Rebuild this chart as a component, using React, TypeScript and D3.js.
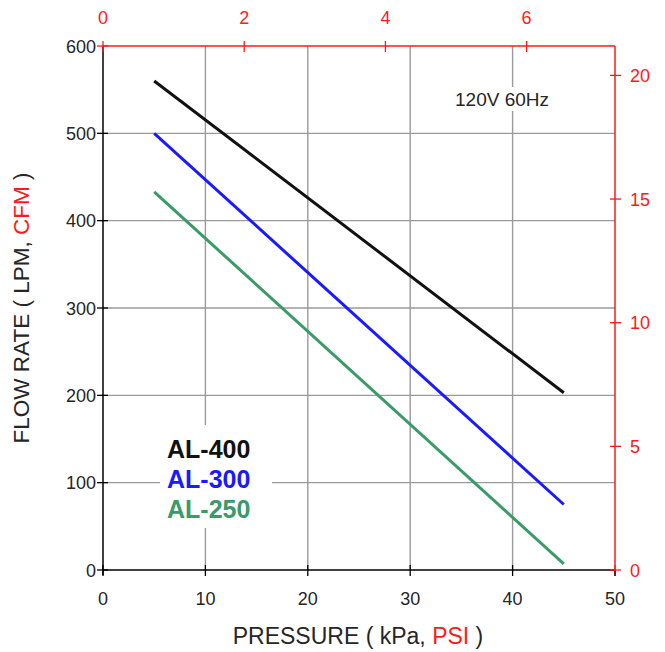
import React from "react";
import * as d3 from "d3";

const kpaTicks = [0, 10, 20, 30, 40, 50];
const lpmTicks = [0, 100, 200, 300, 400, 500, 600];
const psiTicks = [0, 2, 4, 6];
const cfmTicks = [0, 5, 10, 15, 20];
const gridX = [10, 20, 30, 40];
const gridY = [100, 200, 300, 400, 500];

const seriesNames = ["AL-400", "AL-300", "AL-250"];
const seriesColors = ["#111111", "#1a1aff", "#3a9a68"];
const pressure = [5, 45];
const al400 = [560, 203];
const al300 = [500, 75];
const al250 = [433, 7];
const seriesValues = [al400, al300, al250];

const KPA_PER_PSI = 6.89476;
const LPM_PER_CFM = 28.3168;

export default function App() {
  const W = 665, H = 652;
  const L = 103, R = 615, T = 46, B = 570;
  const x = d3.scaleLinear().domain([0, 50]).range([L, R]);
  const y = d3.scaleLinear().domain([0, 600]).range([B, T]);
  const xPsi = d3.scaleLinear().domain([0, 50 / KPA_PER_PSI]).range([L, R]);
  const yCfm = d3.scaleLinear().domain([0, 600 / LPM_PER_CFM]).range([B, T]);
  const line = d3.line<[number, number]>().x(d => x(d[0])).y(d => y(d[1]));
  const font = "'Liberation Sans', Arial, sans-serif";
  const red = "#ff1a1a";
  const fs = 18;
  const txt = "#262626";

  return (
    <svg width={W} height={H} style={{ position: "absolute", left: 0, top: 0, background: "#fff" }} fontFamily={font}>
      <rect x={0} y={0} width={W} height={H} fill="#fff" />
      {gridX.map(v => (
        <line key={"gx" + v} x1={x(v)} x2={x(v)} y1={T} y2={B} stroke="#9a9a9a" strokeWidth={1.4} />
      ))}
      {gridY.map(v => (
        <line key={"gy" + v} x1={L} x2={R} y1={y(v)} y2={y(v)} stroke="#9a9a9a" strokeWidth={1.4} />
      ))}
      {/* annotation background */}
      <rect x={450} y={87} width={108} height={24} fill="#fff" />
      <text x={455} y={106} textAnchor="start" fontSize={19} fill={txt}>120V 60Hz</text>
      {/* legend background */}
      <rect x={160} y={425} width={112} height={103} fill="#fff" />
      {seriesNames.map((n, i) => (
        <text key={n} x={167} y={458 + i * 30} fontSize={25} fontWeight="bold" fill={seriesColors[i]}>{n}</text>
      ))}
      {seriesValues.map((vals, i) => (
        <path key={"s" + i} d={line(pressure.map((p, j) => [p, vals[j]] as [number, number])) || ""}
          stroke={seriesColors[i]} strokeWidth={3} fill="none" />
      ))}
      {/* left axis */}
      <line x1={L} x2={L} y1={T} y2={B + 5} stroke="#000" strokeWidth={1.5} />
      {lpmTicks.map(v => (
        <g key={"ly" + v}>
          <line x1={L - 6} x2={L + 5} y1={y(v)} y2={y(v)} stroke={v === 600 ? red : "#000"} strokeWidth={1.3} />
          <text x={L - 7} y={y(v) + 6.5} textAnchor="end" fontSize={fs} fill={txt}>{v}</text>
        </g>
      ))}
      {/* bottom axis */}
      <line x1={L} x2={R} y1={B} y2={B} stroke="#000" strokeWidth={1.5} />
      {kpaTicks.map(v => (
        <g key={"bx" + v}>
          <line x1={x(v)} x2={x(v)} y1={B - 5} y2={B + 6} stroke={v === 50 ? red : "#000"} strokeWidth={1.3} />
          {v === 50 && <line x1={x(v)} x2={x(v)} y1={B} y2={B + 6} stroke="#000" strokeWidth={1.3} />}
          <text x={x(v)} y={B + 35} textAnchor="middle" fontSize={fs} fill={txt}>{v}</text>
        </g>
      ))}
      {/* top axis */}
      <line x1={L} x2={R} y1={T} y2={T} stroke={red} strokeWidth={1.5} />
      {psiTicks.map(v => (
        <g key={"tx" + v}>
          <line x1={xPsi(v)} x2={xPsi(v)} y1={T - 5} y2={T + 6} stroke={red} strokeWidth={1.3} />
          <text x={xPsi(v)} y={T - 22} textAnchor="middle" fontSize={fs} fill={red}>{v}</text>
        </g>
      ))}
      {/* right axis */}
      <line x1={R} x2={R} y1={T} y2={B} stroke={red} strokeWidth={1.5} />
      {cfmTicks.map(v => (
        <g key={"ry" + v}>
          <line x1={R - 5} x2={R + 6} y1={yCfm(v)} y2={yCfm(v)} stroke={red} strokeWidth={1.3} />
          <text x={R + 15} y={yCfm(v) + 6.5} textAnchor="start" fontSize={fs} fill={red}>{v}</text>
        </g>
      ))}
      {/* axis titles */}
      <text x={358} y={644} textAnchor="middle" fontSize={23} fill={txt}>
        PRESSURE ( kPa, <tspan fill={red}>PSI</tspan> )
      </text>
      <text transform={`translate(29, 308) rotate(-90)`} textAnchor="middle" fontSize={22.5} fill={txt}>
        FLOW RATE ( LPM, <tspan fill={red}>CFM</tspan> )
      </text>
    </svg>
  );
}
